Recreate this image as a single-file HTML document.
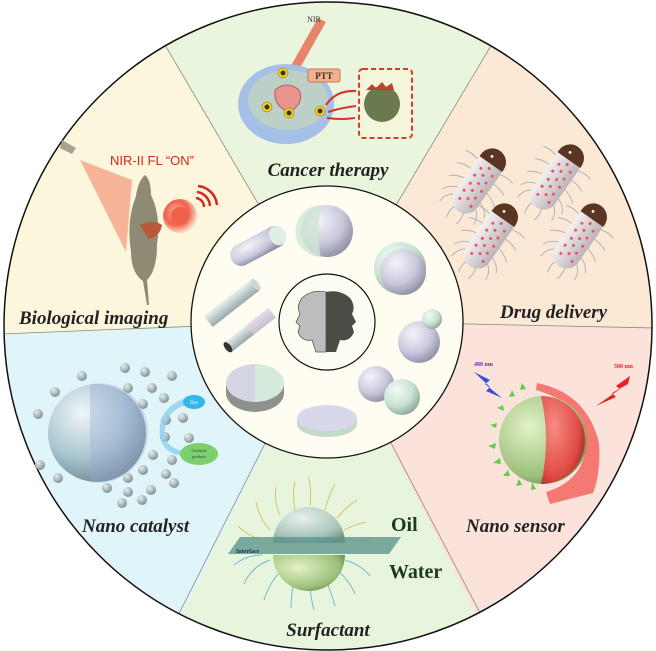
<!DOCTYPE html>
<html><head><meta charset="utf-8"><style>
html,body{margin:0;padding:0;background:#fff;}
svg{display:block;}
.lab{font-family:"Liberation Serif",serif;font-weight:bold;font-style:italic;font-size:19px;fill:#222;}
</style></head><body>
<svg width="656" height="651" viewBox="0 0 656 651" xmlns="http://www.w3.org/2000/svg">
<defs>
<clipPath id="oc"><circle cx="328" cy="326" r="324"/></clipPath>
<radialGradient id="gs" cx="0.35" cy="0.3" r="0.75"><stop offset="0" stop-color="#f4f4fb"/><stop offset="0.6" stop-color="#c9c8dc"/><stop offset="1" stop-color="#8e8ea4"/></radialGradient>
<radialGradient id="gg" cx="0.35" cy="0.3" r="0.75"><stop offset="0" stop-color="#f2fbf4"/><stop offset="0.6" stop-color="#c9e2d3"/><stop offset="1" stop-color="#8aa597"/></radialGradient>
<radialGradient id="gc" cx="0.35" cy="0.3" r="0.75"><stop offset="0" stop-color="#eef6f8"/><stop offset="0.6" stop-color="#a9c6d0"/><stop offset="1" stop-color="#6d8b96"/></radialGradient>
<radialGradient id="gsm" cx="0.35" cy="0.3" r="0.75"><stop offset="0" stop-color="#e8eeee"/><stop offset="1" stop-color="#7c8c90"/></radialGradient>
<radialGradient id="ggr" cx="0.35" cy="0.35" r="0.8"><stop offset="0" stop-color="#e3f2c6"/><stop offset="0.7" stop-color="#9cc07c"/><stop offset="1" stop-color="#5b7a45"/></radialGradient>
<radialGradient id="grd" cx="0.3" cy="0.35" r="0.8"><stop offset="0" stop-color="#f58c84"/><stop offset="0.7" stop-color="#e04b44"/><stop offset="1" stop-color="#9a2622"/></radialGradient>
<radialGradient id="glow" cx="0.4" cy="0.4" r="0.6"><stop offset="0" stop-color="#ffb4a0"/><stop offset="0.6" stop-color="#f0604c"/><stop offset="1" stop-color="#f0604c" stop-opacity="0.2"/></radialGradient>
<radialGradient id="gsf" cx="0.4" cy="0.3" r="0.8"><stop offset="0" stop-color="#e8f0ec"/><stop offset="0.7" stop-color="#a7c4b7"/><stop offset="1" stop-color="#6e8f82"/></radialGradient>
<linearGradient id="cap" x1="0" y1="0" x2="0" y2="1"><stop offset="0" stop-color="#f3f0f2"/><stop offset="1" stop-color="#bcb3b8"/></linearGradient>
<linearGradient id="rod" x1="0" y1="0" x2="0" y2="1"><stop offset="0" stop-color="#e6f2ee"/><stop offset="1" stop-color="#98a9aa"/></linearGradient>
<g id="bac">
 <g stroke="#a8b0bc" stroke-width="0.8" fill="none">
  <path d="M-22,-12 q-5,-6 -12,-6 M-15,-12 q-3,-8 -9,-10 M-5,-12 q-2,-8 -6,-12 M5,-12 q0,-8 -3,-13 M15,-12 q2,-8 0,-13 M-22,12 q-5,6 -12,6 M-15,12 q-3,8 -9,10 M-5,12 q-2,8 -6,12 M5,12 q0,8 -3,13 M15,12 q2,8 0,13 M-30,-5 q-7,-2 -12,0 M-30,5 q-7,2 -12,0"/>
 </g>
 <rect x="-32" y="-12" width="58" height="24" rx="12" fill="url(#cap)"/>
 <path d="M18,-12 h2 a12,12 0 0 1 0,24 h-2 z" fill="#5a3522"/>
 <circle cx="24" cy="-3" r="1.2" fill="#fff"/>
 <g fill="#e8555a">
  <circle cx="-22" cy="-5" r="1.3"/><circle cx="-14" cy="-6" r="1.3"/><circle cx="-6" cy="-5" r="1.3"/><circle cx="2" cy="-6" r="1.3"/><circle cx="10" cy="-5" r="1.3"/>
  <circle cx="-18" cy="1" r="1.3"/><circle cx="-10" cy="0" r="1.3"/><circle cx="-2" cy="1" r="1.3"/><circle cx="6" cy="0" r="1.3"/><circle cx="14" cy="1" r="1.3"/>
  <circle cx="-22" cy="7" r="1.3"/><circle cx="-14" cy="6" r="1.3"/><circle cx="-6" cy="7" r="1.3"/><circle cx="2" cy="6" r="1.3"/><circle cx="10" cy="7" r="1.3"/>
 </g>
</g>
</defs>

<g clip-path="url(#oc)">
 <polygon points="327,321 121,-30 536,-30" fill="#eaf5de"/>
 <polygon points="327,321 121,-30 -10,-30 -10,334" fill="#fbf6dc"/>
 <polygon points="327,321 536,-30 666,-30 666,328" fill="#fbe9d6"/>
 <polygon points="327,321 -10,334 -10,661 160,661" fill="#e0f5f9"/>
 <polygon points="327,321 160,661 500,661" fill="#e6f5dc"/>
 <polygon points="327,321 500,661 666,661 666,328" fill="#fbe3dc"/>
 <g stroke="#8a8a7a" stroke-width="0.8">
  <line x1="327" y1="321" x2="121" y2="-30"/><line x1="327" y1="321" x2="536" y2="-30"/>
  <line x1="327" y1="321" x2="0" y2="334"/><line x1="327" y1="321" x2="656" y2="328"/>
  <line x1="327" y1="321" x2="160" y2="651"/><line x1="327" y1="321" x2="500" y2="651"/>
 </g>
</g>
<circle cx="328" cy="326" r="324" fill="none" stroke="#111" stroke-width="1.5"/>

<!-- Cancer therapy -->
<path d="M318,18 L326,22 L292,82 L284,78 Z" fill="#e8775f" opacity="0.9"/>
<text x="314" y="22" font-family="Liberation Serif,serif" font-size="8" fill="#333" text-anchor="middle">NIR</text>
<ellipse cx="286" cy="104" rx="48" ry="40" fill="#a6bfe6"/>
<ellipse cx="288" cy="100" rx="40" ry="30" fill="#c2d5c0" opacity="0.8"/>
<path d="M275,90 q12,-10 24,0 q6,14 -10,22 q-16,-6 -14,-22z" fill="#e9948e" stroke="#b75b5f"/>
<g fill="#f5d317" stroke="#8a6a00" stroke-width="0.5">
 <circle cx="283" cy="73" r="5"/><circle cx="267" cy="107" r="5"/><circle cx="289" cy="113" r="5"/><circle cx="320" cy="111" r="5"/>
</g>
<g fill="#333"><circle cx="283" cy="73" r="2.5"/><circle cx="267" cy="107" r="2.5"/><circle cx="289" cy="113" r="2.5"/><circle cx="320" cy="111" r="2.5"/></g>
<rect x="308" y="69" width="32" height="13" rx="2" fill="#f3b08a" stroke="#c87854"/>
<text x="324" y="79" font-family="Liberation Serif,serif" font-size="9" font-weight="bold" fill="#333" text-anchor="middle">PTT</text>
<g stroke="#d0352a" stroke-width="2" fill="none">
 <path d="M326,105 q10,-15 30,-14"/><path d="M328,112 q12,-4 28,-6"/><path d="M327,118 q14,2 28,0"/>
</g>
<rect x="359" y="69" width="53" height="69" rx="4" fill="#f4f6dc" stroke="#dd3a2a" stroke-width="2" stroke-dasharray="5,3"/>
<circle cx="382" cy="104" r="18" fill="#6a7a4e"/>
<path d="M366,90 l6,-6 l4,4 l6,-6 l4,5 l6,-4 l2,7" fill="#b94530"/>
<text x="328" y="176" class="lab" font-size="19" text-anchor="middle">Cancer therapy</text>

<!-- Biological imaging -->
<path d="M62,140 l14,8 l-4,6 l-12,-6z" fill="#aaa090"/>
<polygon points="80,160 132,180 126,252" fill="#f6a88c" opacity="0.85"/>
<path d="M145,175 q6,5 6,20 q10,20 6,50 q0,25 -10,35 l2,25 h-2 l-4,-24 q-12,-8 -12,-30 q-5,-30 5,-55 q2,-15 9,-21z" fill="#8f8a73"/>
<path d="M140,225 q14,-6 22,0 q-2,12 -14,14z" fill="#b85a3a"/>
<circle cx="180" cy="216" r="17" fill="url(#glow)"/>
<circle cx="180" cy="216" r="9" fill="#f06048"/>
<g stroke="#d8271f" stroke-width="2.5" fill="none">
 <path d="M196,198 a9,9 0 0 1 8,9"/><path d="M197,192 a15,15 0 0 1 13,14"/><path d="M198,186 a21,21 0 0 1 19,19"/>
</g>
<text x="110" y="165" font-family="Liberation Sans,sans-serif" font-size="13" fill="#d8271f">NIR-II FL “ON”</text>
<text x="19" y="324" class="lab" font-size="19">Biological imaging</text>

<!-- Drug delivery -->
<use href="#bac" transform="translate(479,181) rotate(-55) scale(1.15)"/>
<use href="#bac" transform="translate(557,177) rotate(-55) scale(1.15)"/>
<use href="#bac" transform="translate(491,236) rotate(-55) scale(1.15)"/>
<use href="#bac" transform="translate(580,236) rotate(-55) scale(1.15)"/>
<text x="500" y="318" class="lab" font-size="19">Drug delivery</text>

<!-- Nano catalyst -->
<circle cx="97" cy="433" r="49" fill="url(#gc)"/>
<path d="M90,384 a49,49 0 0 1 52,72 a49,49 0 0 1 -52,26 z" fill="#9aa8d8" opacity="0.35"/>
<g fill="url(#gsm)">
 <circle cx="125" cy="368" r="5"/><circle cx="145" cy="372" r="5"/><circle cx="172" cy="376" r="5"/><circle cx="82" cy="376" r="5"/><circle cx="55" cy="392" r="5"/><circle cx="128" cy="388" r="5"/><circle cx="152" cy="388" r="5"/><circle cx="164" cy="398" r="5"/><circle cx="143" cy="404" r="5"/><circle cx="38" cy="414" r="5"/><circle cx="166" cy="420" r="5"/><circle cx="183" cy="418" r="5"/><circle cx="165" cy="437" r="5"/><circle cx="189" cy="438" r="5"/><circle cx="153" cy="455" r="5"/><circle cx="172" cy="460" r="5"/><circle cx="40" cy="465" r="5"/><circle cx="143" cy="470" r="5"/><circle cx="166" cy="474" r="5"/><circle cx="58" cy="478" r="5"/><circle cx="128" cy="478" r="5"/><circle cx="107" cy="488" r="5"/><circle cx="128" cy="492" r="5"/><circle cx="151" cy="490" r="5"/><circle cx="174" cy="483" r="5"/><circle cx="122" cy="503" r="5"/><circle cx="142" cy="500" r="5"/>
</g>
<path d="M186,398 q-30,10 -26,40 q4,16 24,18 l-2,5 l10,-7 l-8,-8 l-1,5 q-16,-4 -18,-14 q-2,-26 22,-32z" fill="#8fd0ef" opacity="0.8"/>
<ellipse cx="194" cy="402" rx="11" ry="7" fill="#36b5e8"/>
<text x="194" y="404" font-family="Liberation Serif,serif" font-size="5" fill="#fff" text-anchor="middle">Dye</text>
<ellipse cx="199" cy="454" rx="19" ry="11" fill="#7ccf6a"/>
<text x="199" y="452" font-family="Liberation Serif,serif" font-size="4" fill="#245" text-anchor="middle">Oxidized</text>
<text x="199" y="458" font-family="Liberation Serif,serif" font-size="4" fill="#245" text-anchor="middle">products</text>
<text x="82" y="532" class="lab" font-size="19">Nano catalyst</text>

<!-- Surfactant -->
<g stroke="#d9b452" stroke-width="0.8" fill="none">
 <path d="M270,530 q-10,-10 -14,-28"/><path d="M280,515 q-6,-12 -4,-28"/><path d="M295,510 q-3,-16 0,-28"/><path d="M310,505 q2,-18 -2,-28"/><path d="M325,510 q4,-16 10,-26"/><path d="M337,518 q10,-12 20,-18"/><path d="M344,530 q12,-6 22,-8"/><path d="M262,540 q-14,-4 -24,-14"/><path d="M345,540 q14,0 26,2"/>
</g>
<g stroke="#5aa8cc" stroke-width="0.8" fill="none">
 <path d="M270,560 q-18,6 -26,24"/><path d="M280,572 q-10,10 -16,28"/><path d="M295,578 q-4,14 -4,30"/><path d="M310,580 q0,16 4,30"/><path d="M325,578 q6,14 10,28"/><path d="M337,570 q12,10 18,24"/><path d="M346,560 q16,6 24,16"/><path d="M262,555 q-16,0 -28,10"/>
</g>
<path d="M273,543 a36,36 0 0 1 72,0z" fill="url(#gsf)"/>
<polygon points="228,554 240,537 401,537 389,554" fill="#5f978f" opacity="0.8"/>
<path d="M273,555 a36,36 0 0 0 72,0z" fill="url(#ggr)"/>
<text x="236" y="553" font-family="Liberation Serif,serif" font-size="6" font-weight="bold" fill="#234">Interface</text>
<text x="391" y="531" font-family="Liberation Serif,serif" font-size="20" font-weight="bold" fill="#1d3a1d">Oil</text>
<text x="389" y="578" font-family="Liberation Serif,serif" font-size="20" font-weight="bold" fill="#1d3a1d">Water</text>
<text x="328" y="636" class="lab" font-size="19" text-anchor="middle">Surfactant</text>

<!-- Nano sensor -->
<path d="M537,383 q50,10 62,60 q2,30 -6,50 l-43,11 l-4,-12 q40,-12 40,-52 q0,-35 -50,-50z" fill="#f46560" opacity="0.85"/>
<circle cx="543" cy="440" r="44" fill="url(#ggr)"/>
<path d="M541,396 a44,44 0 0 1 0,88 q10,-44 0,-88z" fill="url(#grd)"/>
<g fill="#5fd04a">
 <polygon points="490,425 497,423 496,428"/><polygon points="488,446 496,443 495,449"/><polygon points="493,463 500,458 501,464"/><polygon points="503,476 508,470 510,476"/><polygon points="516,486 519,479 522,485"/><polygon points="531,490 532,482 536,489"/><polygon points="497,408 503,405 504,411"/><polygon points="509,397 512,390 515,396"/><polygon points="520,390 522,383 526,389"/>
</g>
<polygon points="474,372 490,380 485,384 502,398 486,391 490,387" fill="#3b4fd8"/>
<polygon points="630,376 616,386 620,389 596,406 616,397 612,393 628,384" fill="#e8231c"/>
<text x="474" y="366" font-family="Liberation Serif,serif" font-size="6" font-weight="bold" fill="#5a2ed0">488 nm</text>
<text x="614" y="368" font-family="Liberation Serif,serif" font-size="6" font-weight="bold" fill="#e8231c">580 nm</text>
<text x="466" y="532" class="lab" font-size="19">Nano sensor</text>

<!-- Inner circle -->
<circle cx="327" cy="322" r="136" fill="#fffdf1" stroke="#111" stroke-width="1.3"/>
<g transform="translate(258,246) rotate(-28)">
 <rect x="-30" y="-11" width="60" height="22" rx="11" fill="url(#gs)"/>
 <ellipse cx="22" cy="0" rx="8" ry="10" fill="#dfeee6"/>
</g>
<circle cx="327" cy="231" r="26" fill="url(#gs)"/>
<path d="M322,205 a26,26 0 0 0 -1,52 q-6,-26 1,-52z" fill="#cfe6d6" opacity="0.8"/>
<circle cx="400" cy="268" r="26" fill="url(#gg)"/>
<circle cx="403" cy="272" r="23" fill="url(#gs)"/>
<circle cx="419" cy="342" r="21" fill="url(#gs)"/>
<circle cx="432" cy="319" r="10" fill="url(#gg)"/>
<circle cx="376" cy="384" r="18" fill="url(#gs)"/>
<circle cx="402" cy="397" r="18" fill="url(#gg)"/>
<g transform="translate(232,303) rotate(-38)"><rect x="-30" y="-7" width="60" height="14" fill="url(#rod)"/><ellipse cx="30" cy="0" rx="3" ry="7" fill="#c9d8d4"/></g>
<g transform="translate(250,330) rotate(-38)"><rect x="-28" y="-6" width="56" height="12" fill="url(#rod)"/><rect x="0" y="-6" width="28" height="12" fill="#e6cde4" opacity="0.6"/><ellipse cx="-28" cy="0" rx="3" ry="6" fill="#333"/></g>
<g>
 <path d="M226,383 v10 a29,19 0 0 0 58,0 v-10z" fill="#8d928e"/>
 <ellipse cx="255" cy="383" rx="29" ry="19" fill="#d6d5e4"/>
 <path d="M255,364 a29,19 0 0 1 0,38z" fill="#d5eada"/>
</g>
<g>
 <path d="M297,418 v6 a30,13 0 0 0 60,0 v-6z" fill="#c4d8cc"/>
 <ellipse cx="327" cy="418" rx="30" ry="13" fill="#d9d8ea"/>
</g>
<circle cx="327" cy="322" r="48" fill="#fdfcf2" stroke="#111" stroke-width="1.2"/>
<path d="M326,292 q-14,-3 -24,6 q-6,8 -2,16 l-4,8 l4,4 l-2,6 q4,10 14,8 l4,12 l10,0z" fill="#bdbdbd" stroke="#555" stroke-width="0.8"/>
<path d="M326,292 q14,-3 24,6 q6,8 2,16 l4,8 l-4,4 l2,6 q-4,10 -14,8 l-4,12 l-10,0z" fill="#4d4b46"/>
</svg>
</body></html>
